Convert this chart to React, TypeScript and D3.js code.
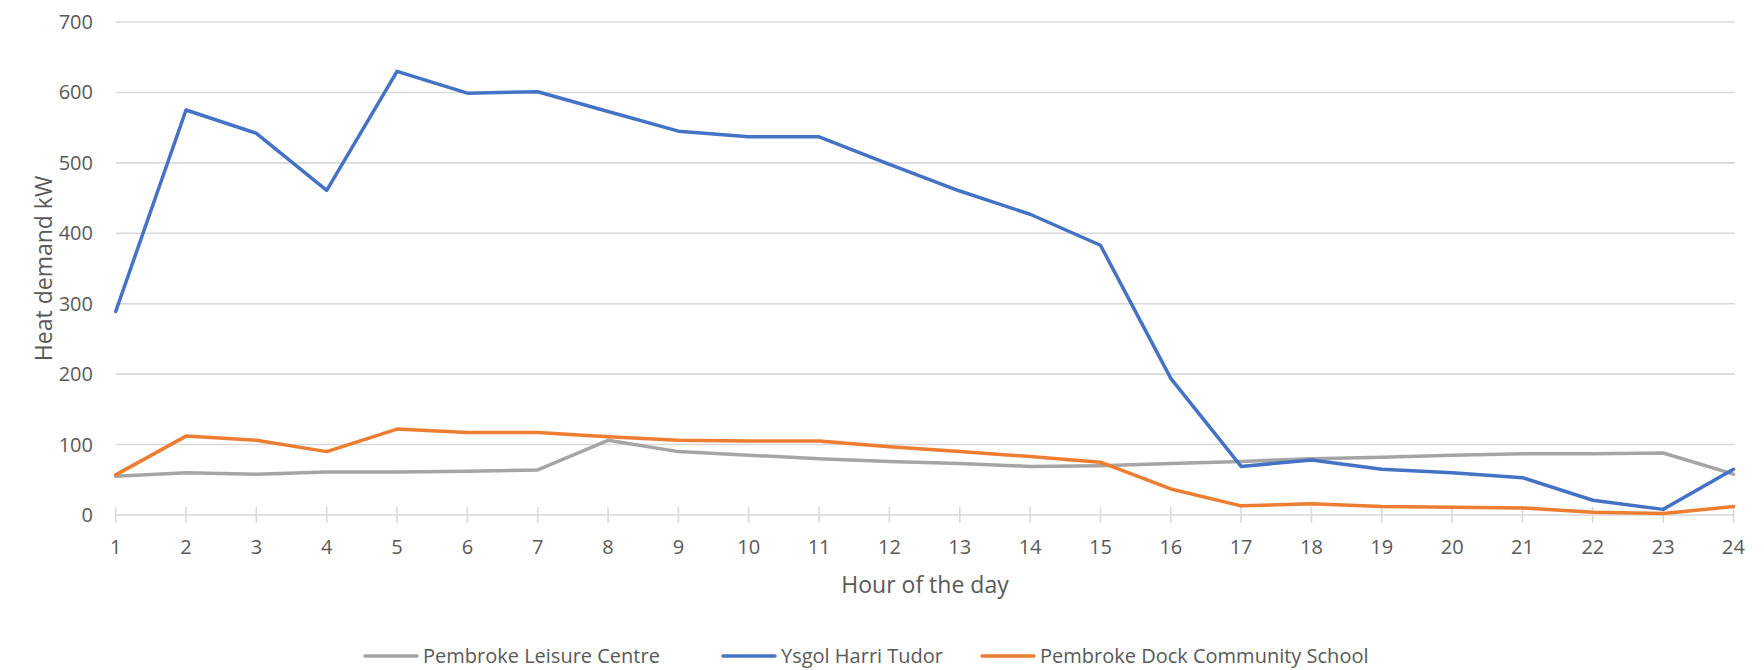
import React from "react";
import * as d3 from "d3";

// Hour-of-day categories and heat demand (kW) per site
const hours: number[] = Array.from({ length: 24 }, (_, i) => i + 1);
const leisureCentre: number[] = [55, 60, 58, 61, 61, 62, 64, 106, 90, 85, 80, 76, 73, 69, 70, 73, 76, 80, 82, 85, 87, 87, 88, 58];
const harriTudor: number[] = [289, 575, 542, 461, 630, 599, 601, 573, 545, 537, 537, 498, 460, 427, 383, 194, 69, 78, 65, 60, 53, 21, 8, 65];
const dockSchool: number[] = [57, 112, 106, 90, 122, 117, 117, 111, 106, 105, 105, 97, 90, 83, 75, 37, 13, 16, 12, 11, 10, 4, 2, 12];
const yTicks: number[] = [0, 100, 200, 300, 400, 500, 600, 700];

const seriesList = [
  { name: "Pembroke Leisure Centre", values: leisureCentre, color: "#A5A5A5" },
  { name: "Ysgol Harri Tudor", values: harriTudor, color: "#4472C4" },
  { name: "Pembroke Dock Community School", values: dockSchool, color: "#ED7D31" },
];

const W = 1764;
const H = 670;
const FONT = "'Open Sans', 'Noto Sans', sans-serif";
const TEXT = "#595959";
const GRID = "#D9D9D9";

export default function App() {
  const x = d3.scaleLinear().domain([1, 24]).range([115.7, 1733.5]);
  const y = d3.scaleLinear().domain([0, 700]).range([515, 22]);
  const line = d3
    .line<number>()
    .x((_, i) => x(hours[i]))
    .y((v) => y(v));

  const legendX = [365, 723, 982];

  return (
    <div style={{ position: "absolute", left: 0, top: 0 }}>
      <svg width={W} height={H} style={{ display: "block", background: "#fff" }} fontFamily={FONT}>
        {/* horizontal gridlines */}
        {yTicks.map((t) => (
          <line key={t} x1={x(1)} x2={x(24) + 1.5} y1={y(t)} y2={y(t)} stroke={GRID} strokeWidth={1.6} />
        ))}
        {/* category tick marks crossing the axis */}
        {hours.map((h) => (
          <line key={h} x1={x(h)} x2={x(h)} y1={y(0) - 8} y2={y(0) + 8} stroke={GRID} strokeWidth={1.6} />
        ))}
        {/* y tick labels */}
        {yTicks.map((t) => (
          <text key={t} x={93} y={y(t)} dy="0.35em" textAnchor="end" fontSize={20} fill={TEXT}>
            {t}
          </text>
        ))}
        {/* x tick labels */}
        {hours.map((h) => (
          <text key={h} x={x(h)} y={554} textAnchor="middle" fontSize={20} fill={TEXT}>
            {h}
          </text>
        ))}
        {/* series lines */}
        {seriesList.map((s) => (
          <path
            key={s.name}
            d={line(s.values) || ""}
            fill="none"
            stroke={s.color}
            strokeWidth={3.5}
            strokeLinejoin="round"
            strokeLinecap="round"
          />
        ))}
        {/* axis titles */}
        <text x={925} y={593} textAnchor="middle" fontSize={23} fill={TEXT}>
          Hour of the day
        </text>
        <text transform={`translate(52, ${(y(0) + y(700)) / 2}) rotate(-90)`} textAnchor="middle" fontSize={23} fill={TEXT}>
          Heat demand kW
        </text>
        {/* legend */}
        {seriesList.map((s, i) => (
          <g key={s.name} transform={`translate(${legendX[i]}, 656)`}>
            <line x1={0} x2={52} y1={0} y2={0} stroke={s.color} strokeWidth={3.5} strokeLinecap="round" />
            <text x={58} y={0} dy="0.35em" fontSize={20} fill={TEXT}>
              {s.name}
            </text>
          </g>
        ))}
      </svg>
    </div>
  );
}
